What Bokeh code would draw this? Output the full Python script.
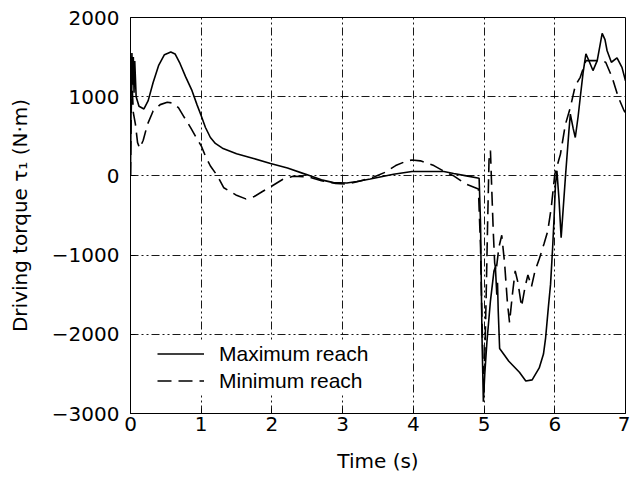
from bokeh.plotting import figure
from bokeh.models import Range1d, FixedTicker, Legend, LegendItem
from bokeh.embed import file_html
from bokeh.resources import INLINE

# Maximum reach (solid)
time_max = [0.00, 0.01, 0.02, 0.03, 0.04, 0.05, 0.06, 0.08, 0.12, 0.19,
            0.25, 0.32, 0.40, 0.48, 0.57, 0.63, 0.70, 0.78, 0.87, 0.94,
            1.00, 1.06, 1.13, 1.20, 1.30, 1.50, 1.74, 1.98, 2.22, 2.50,
            2.70, 2.87, 3.06, 3.20, 3.39, 3.72, 3.98, 4.20, 4.43, 4.57,
            4.75, 4.93, 4.95, 4.97, 4.99, 5.01, 5.04, 5.09, 5.14, 5.16,
            5.18, 5.19, 5.20, 5.22, 5.35, 5.50, 5.59, 5.68, 5.78, 5.84,
            5.87, 5.91, 5.94, 5.97, 5.99, 6.01, 6.03, 6.06, 6.09, 6.12,
            6.15, 6.20, 6.22, 6.26, 6.29, 6.33, 6.36, 6.40, 6.44, 6.48,
            6.54, 6.60, 6.64, 6.67, 6.71, 6.74, 6.80, 6.88, 6.95, 7.00]
torque_max = [0, 1100, 1550, 1150, 1500, 1050, 1450, 1000, 880, 845,
              950, 1180, 1400, 1530, 1565, 1540, 1420, 1250, 1076, 900,
              760, 611, 485, 410, 350, 280, 220, 156, 100, 13,
              -50, -85, -90, -70, -40, 20, 55, 55, 55, 30,
              0, -30, -600, -2000, -2850, -2500, -2100, -1580, -1200, -1150,
              -1500, -1350, -1700, -2180, -2340, -2480, -2590, -2575, -2425, -2250,
              -2047, -1650, -1370, -900, -528, -105, 63, -300, -780, -400,
              -20, 570, 780, 600, 485, 750, 990, 1300, 1540, 1460,
              1330, 1455, 1650, 1800, 1720, 1580, 1435, 1490, 1370, 1200]

# Minimum reach (dashed)
time_min = [0.00, 0.01, 0.02, 0.03, 0.04, 0.07, 0.10, 0.13, 0.18, 0.24,
            0.32, 0.42, 0.52, 0.60, 0.68, 0.76, 0.85, 0.92, 1.00, 1.06,
            1.13, 1.23, 1.32, 1.49, 1.63, 1.75, 1.86, 2.00, 2.15, 2.30,
            2.50, 2.70, 2.90, 3.06, 3.25, 3.45, 3.60, 3.75, 3.91, 3.98,
            4.10, 4.29, 4.43, 4.57, 4.74, 4.92, 4.95, 4.97, 4.99, 5.01,
            5.03, 5.05, 5.07, 5.09, 5.11, 5.13, 5.15, 5.17, 5.21, 5.25,
            5.29, 5.33, 5.36, 5.40, 5.44, 5.48, 5.53, 5.58, 5.62, 5.67,
            5.72, 5.78, 5.85, 5.90, 5.95, 6.00, 6.08, 6.15, 6.22, 6.29,
            6.36, 6.44, 6.53, 6.65, 6.72, 6.81, 6.90, 6.98, 7.00]
torque_min = [0, 800, 1200, 1000, 800, 650, 420, 350, 450, 650,
              820, 900, 930, 920, 860, 740, 610, 500, 380, 250,
              125, 0, -150, -240, -290, -260, -200, -127, -45, -5,
              -10, -60, -95, -105, -65, -10, 45, 130, 190, 200,
              190, 130, 60, 0, -100, -165, -900, -1800, -2500, -2300,
              -1500, -600, 200, 320, -200, -700, -1100, -1200, -900, -750,
              -1100, -1600, -1850, -1500, -1200, -1350, -1650, -1400, -1250, -1400,
              -1200, -1050, -850, -700, -400, 20, 275, 650, 865, 1140,
              1245, 1455, 1455, 1455, 1435, 1245, 990, 823, 800]

x_ticks = [0, 1, 2, 3, 4, 5, 6, 7]
y_ticks = [-3000, -2000, -1000, 0, 1000, 2000]
y_tick_labels = ["\u22123000", "\u22122000", "\u22121000", "0", "1000", "2000"]
series_labels = ["Maximum reach", "Minimum reach"]

AX_FONT = "DejaVu Sans"

p = figure(width=630, height=478, output_backend="svg", toolbar_location=None,
           x_range=Range1d(0, 7), y_range=Range1d(-3000, 2000),
           min_border_left=130, min_border_right=5, min_border_top=17,
           min_border_bottom=65)

p.background_fill_color = "white"
p.border_fill_color = "white"
p.outline_line_color = "black"
p.outline_line_width = 1

r1 = p.line(time_max, torque_max, line_color="black", line_width=1.6)
r2 = p.line(time_min, torque_min, line_color="black", line_width=1.6, line_dash="14 7")

p.xaxis.ticker = FixedTicker(ticks=x_ticks)
p.yaxis.ticker = FixedTicker(ticks=y_ticks)
p.yaxis.major_label_overrides = {v: s for v, s in zip(y_ticks, y_tick_labels)}

for ax in (p.xaxis, p.yaxis):
    ax.major_tick_in = 5
    ax.major_tick_out = 0
    ax.minor_tick_in = 0
    ax.minor_tick_out = 0
    ax.axis_line_color = "black"
    ax.major_tick_line_color = "black"
    ax.major_label_text_font = AX_FONT
    ax.major_label_text_font_size = "20px"
    ax.major_label_text_color = "black"
    ax.axis_label_text_font = AX_FONT
    ax.axis_label_text_font_size = "20px"
    ax.axis_label_text_font_style = "normal"
    ax.axis_label_text_color = "black"

p.xaxis.axis_label = "Time (s)"
p.yaxis.axis_label = "Driving torque \u03c4\u2081 (N\u00b7m)"
p.xaxis.major_label_standoff = 3
p.xaxis.axis_label_standoff = 15
p.yaxis.major_label_standoff = 11
p.yaxis.axis_label_standoff = 17

for g in (p.xgrid, p.ygrid):
    g.grid_line_color = "black"
    g.grid_line_width = 1
    g.grid_line_dash = "8 3 2 3 2 3"
    g.grid_line_alpha = 0.9

legend = Legend(items=[LegendItem(label=series_labels[0], renderers=[r1]),
                       LegendItem(label=series_labels[1], renderers=[r2])],
                location=(27, 19), margin=0, padding=12, spacing=0,
                glyph_width=47, glyph_height=27, label_height=27,
                label_standoff=15, label_width=174,
                label_text_font="Liberation Sans", label_text_font_size="21px",
                label_text_color="black",
                border_line_color=None, background_fill_color="white",
                background_fill_alpha=1)
p.add_layout(legend)

open("out.html", "w").write(file_html(p, INLINE))
